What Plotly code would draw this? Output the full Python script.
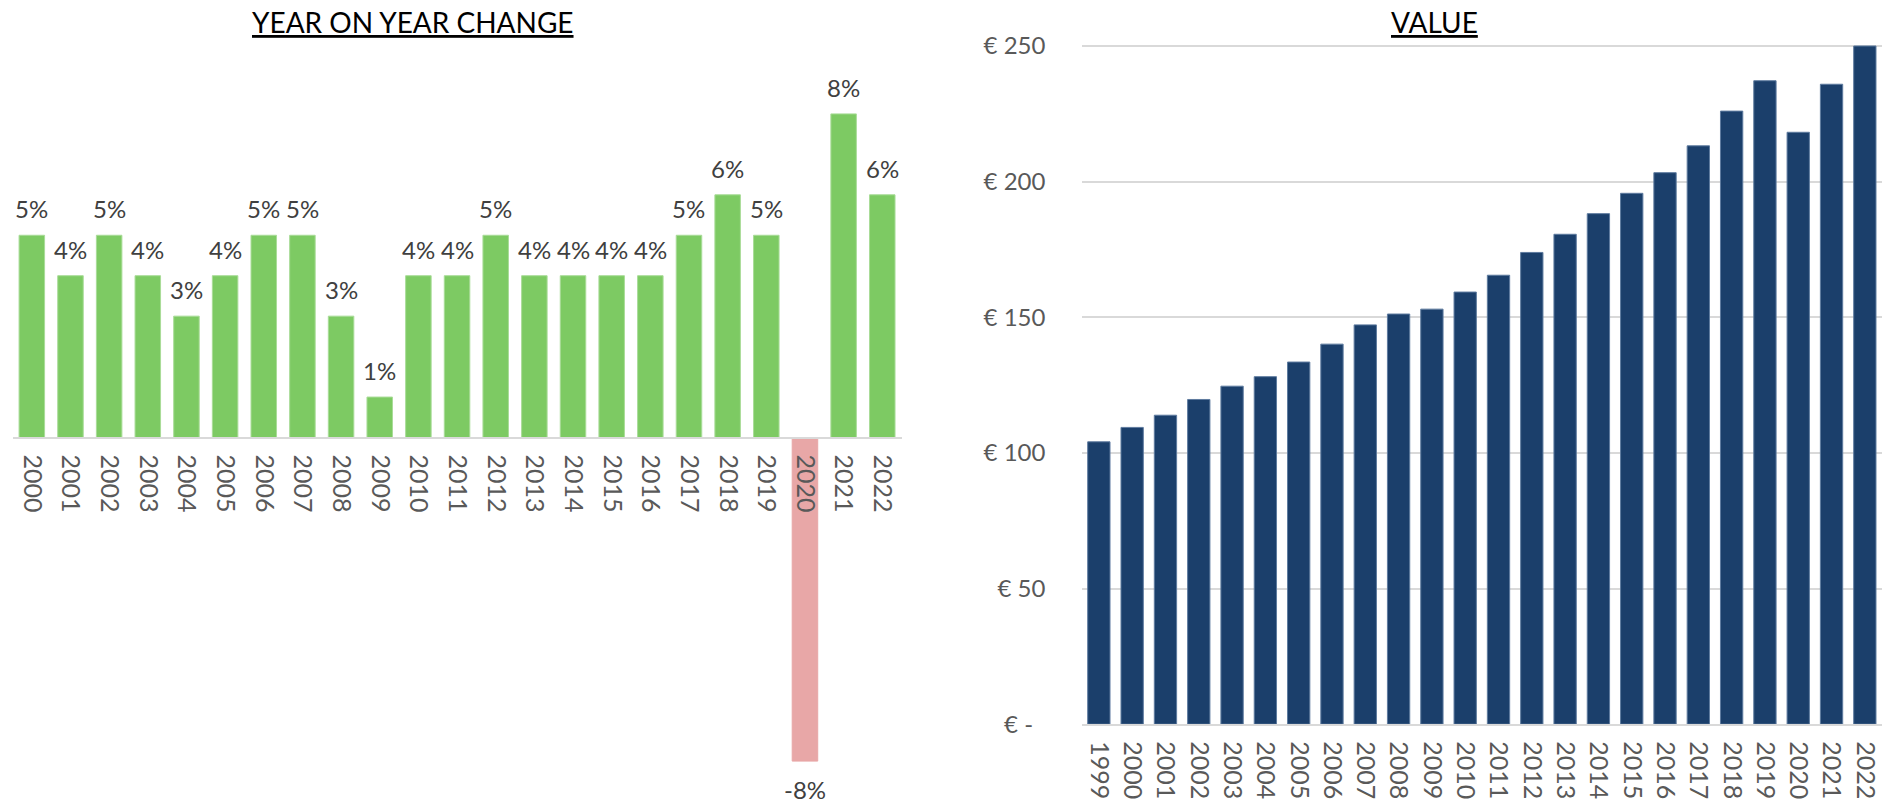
import plotly.graph_objects as go

# ---------------- data ----------------
yoy_years = [str(y) for y in range(2000, 2023)]
yoy_pct = [5, 4, 5, 4, 3, 4, 5, 5, 3, 1, 4, 4, 5, 4, 4, 4, 4, 5, 6, 5, -8, 8, 6]

value_years = [str(y) for y in range(1999, 2023)]
value_eur = [104.1, 109.4, 113.9, 119.7, 124.6, 128.1, 133.5, 140.1, 147.2, 151.2,
             153.0, 159.3, 165.5, 173.9, 180.6, 188.2, 195.7, 203.3, 213.2, 226.0,
             237.2, 218.2, 235.9, 250.0]

value_ticks = [0, 50, 100, 150, 200, 250]
value_ticktext = ["€ -\u00a0\u00a0", "€ 50", "€ 100", "€ 150", "€ 200", "€ 250"]

left_title = "YEAR ON YEAR CHANGE"
right_title = "VALUE"

# ---------------- style ----------------
W, H = 1893, 808
FONT = "Lato, 'Open Sans', sans-serif"
GREEN = "#7DCA63"
GREEN_EDGE = "#A9DC98"
PINK = "#E8A7A7"
NAVY = "#1B3F6B"
NAVY_EDGE = "#5E7B9F"
AXIS_GREY = "#D9D9D9"
TICK_COL = "#595959"
LABEL_COL = "#404040"

# left plot geometry (pixels)
L_x0, L_x1 = 12.5, 901.6
L_ymin, L_ymax = -8.5, 10.0
L_zero_px, L_ppu = 437.5, 40.45
L_top_px = L_zero_px - L_ymax * L_ppu
L_bot_px = L_zero_px - L_ymin * L_ppu
L_dom = [(H - L_bot_px) / H, (H - L_top_px) / H]
L_pos0 = (H - L_zero_px) / H

# right plot geometry (pixels)
R_x0, R_x1 = 1082.2, 1881.5
R_ymax = 251.0
R_zero_px, R_ppu = 724.2, 2.7128
R_top_px = R_zero_px - R_ymax * R_ppu
R_dom = [(H - R_zero_px) / H, (H - R_top_px) / H]

fig = go.Figure()

bar_colors = [GREEN if v >= 0 else PINK for v in yoy_pct]
edge_colors = [GREEN_EDGE if v >= 0 else PINK for v in yoy_pct]
fig.add_trace(go.Bar(
    x=yoy_years, y=yoy_pct, xaxis="x", yaxis="y", width=0.66,
    marker=dict(color=bar_colors, line=dict(color=edge_colors, width=1)),
    hoverinfo="x+y", showlegend=False,
))

fig.add_trace(go.Bar(
    x=value_years, y=value_eur, xaxis="x2", yaxis="y2", width=0.67,
    marker=dict(color=NAVY, line=dict(color=NAVY_EDGE, width=1)),
    hoverinfo="x+y", showlegend=False,
))

annotations = []
for i, v in enumerate(yoy_pct):
    annotations.append(dict(
        x=i, y=v, xref="x", yref="y", text=f"{v}%", showarrow=False,
        xanchor="center", yanchor="bottom" if v >= 0 else "top",
        yshift=10 if v >= 0 else -12,
        font=dict(family=FONT, size=24, color=LABEL_COL),
    ))

annotations.append(dict(
    x=412.5 / W, y=(H - 22) / H, xref="paper", yref="paper",
    text=f"<u>{left_title}</u>", showarrow=False, xanchor="center", yanchor="middle",
    font=dict(family=FONT, size=28, color="#000000"),
))
annotations.append(dict(
    x=1434 / W, y=(H - 22) / H, xref="paper", yref="paper",
    text=f"<u>{right_title}</u>", showarrow=False, xanchor="center", yanchor="middle",
    font=dict(family=FONT, size=28, color="#000000"),
))

fig.update_layout(
    width=W, height=H,
    margin=dict(l=0, r=0, t=0, b=0, pad=0, autoexpand=False),
    paper_bgcolor="white", plot_bgcolor="white",
    font=dict(family=FONT, color=TICK_COL),
    annotations=annotations,
    xaxis=dict(
        domain=[L_x0 / W, L_x1 / W], anchor="free", position=L_pos0,
        type="category", range=[-0.5, len(yoy_years) - 0.5],
        showline=True, linecolor=AXIS_GREY, linewidth=2,
        ticks="outside", ticklen=11, tickcolor="rgba(0,0,0,0)",
        tickangle=90, tickfont=dict(family=FONT, size=25, color=TICK_COL),
        showgrid=False, zeroline=False, fixedrange=True,
    ),
    yaxis=dict(
        domain=L_dom, anchor="x", range=[L_ymin, L_ymax],
        showticklabels=False, showgrid=False, zeroline=False, showline=False,
        ticks="", fixedrange=True,
    ),
    xaxis2=dict(
        domain=[R_x0 / W, R_x1 / W], anchor="y2",
        type="category", range=[-0.5, len(value_years) - 0.5],
        showline=True, linecolor=AXIS_GREY, linewidth=2,
        ticks="outside", ticklen=10, tickcolor="rgba(0,0,0,0)",
        tickangle=90, tickfont=dict(family=FONT, size=25, color=TICK_COL),
        showgrid=False, zeroline=False, fixedrange=True,
    ),
    yaxis2=dict(
        domain=R_dom, anchor="x2", range=[0, R_ymax],
        tickmode="array", tickvals=value_ticks, ticktext=value_ticktext,
        ticks="outside", ticklen=31, tickcolor="rgba(0,0,0,0)",
        tickfont=dict(family=FONT, size=24, color=TICK_COL),
        showgrid=True, gridcolor=AXIS_GREY, gridwidth=1.5,
        zeroline=False, showline=False, fixedrange=True,
    ),
)

fig.write_html(
    "out.html",
    config={"displayModeBar": False},
    post_script="document.body.style.margin='0';document.body.style.overflow='hidden';",
)
